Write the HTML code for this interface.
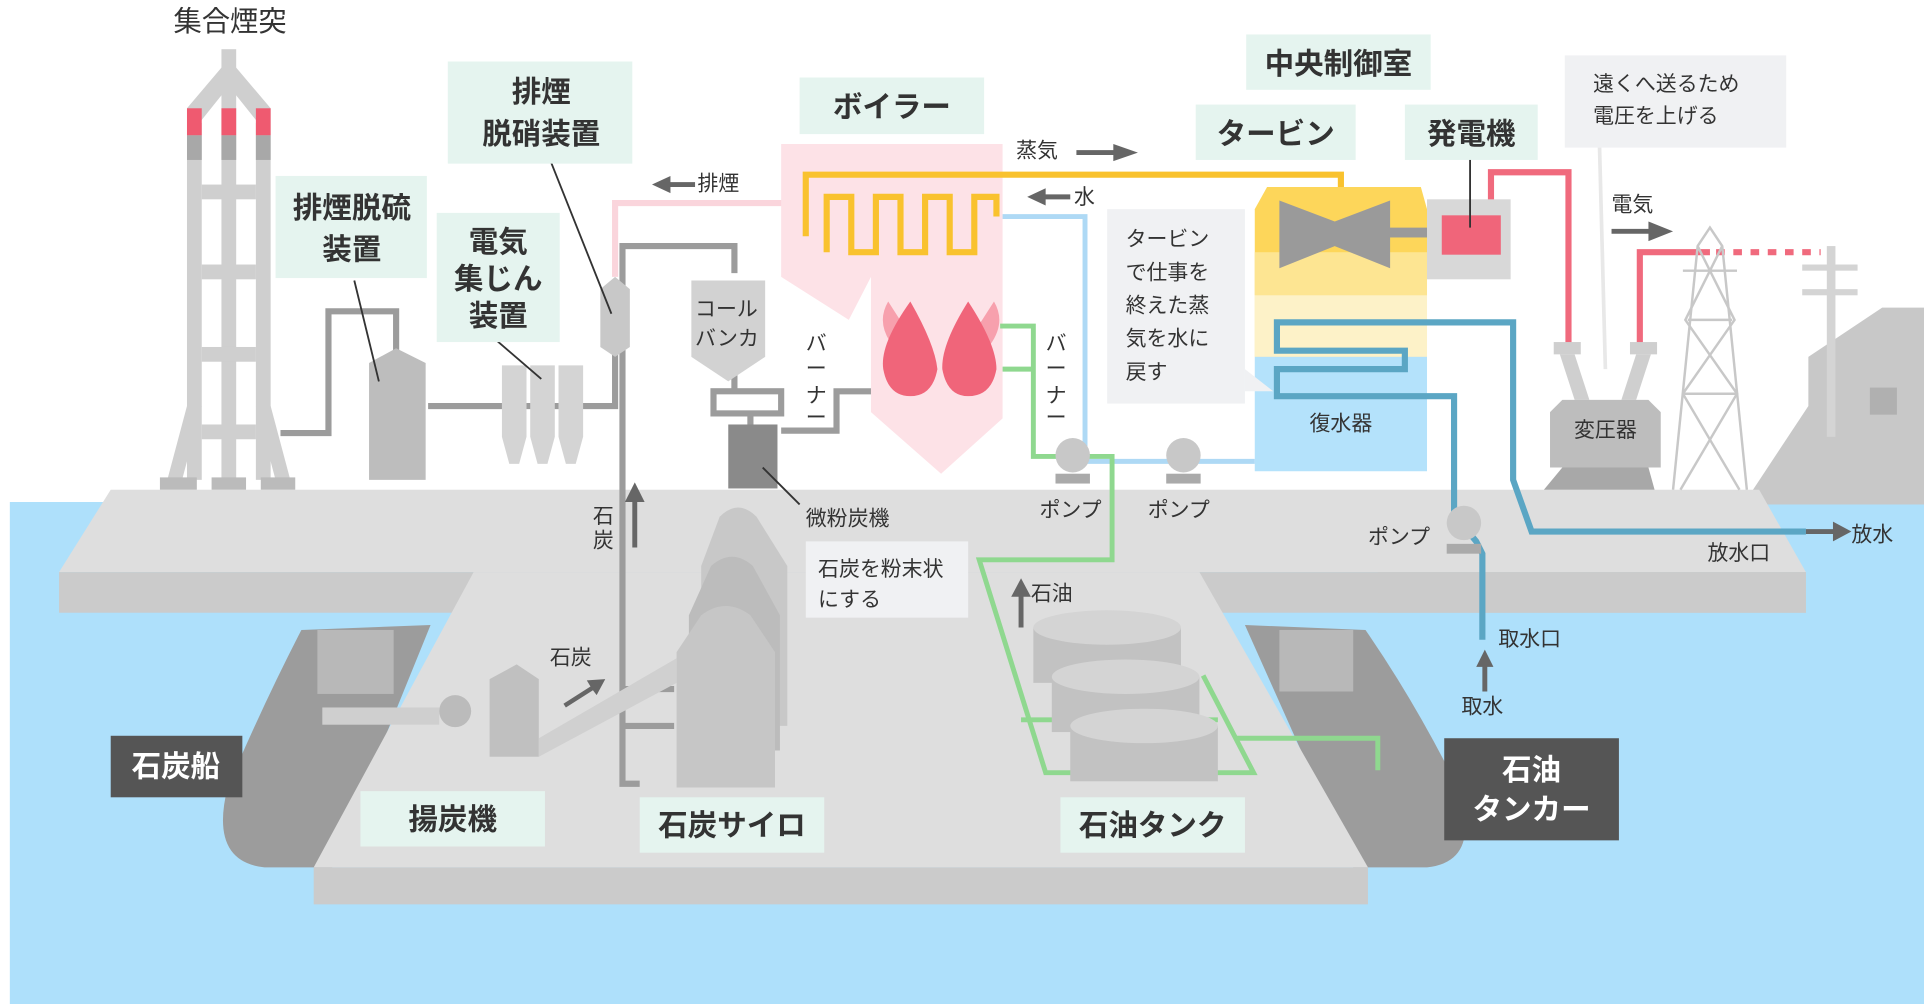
<!DOCTYPE html>
<html><head><meta charset="utf-8"><style>
html,body{margin:0;padding:0;background:#fff;}
svg{display:block;}
text{font-family:"Liberation Sans","Noto Sans CJK JP",sans-serif;fill:#333;}
.b{font-weight:bold;font-size:24px;}
.s{font-size:17px;}
</style></head><body>
<svg width="1924" height="1004" viewBox="0 0 1564 816" preserveAspectRatio="none" xmlns="http://www.w3.org/2000/svg">
<rect x="8" y="408" width="1556" height="408" fill="#aee0fb"/>
<polygon points="1425,398 1470,330 1470,290 1530,250 1564,250 1564,410 1425,410" fill="#c8c8c8"/>
<rect x="1520" y="315" width="22" height="22" fill="#b0b0b0"/>
<!-- ships -->
<path d="M350,508 L245,512 Q215,570 185,640 Q170,700 215,705 L270,705 Z" fill="#9c9c9c"/>
<rect x="258" y="512" width="62" height="52" fill="#b8b8b8"/>
<path d="M1012,508 L1110,512 Q1150,570 1185,640 Q1205,700 1160,705 L1100,705 Z" fill="#9c9c9c"/>
<rect x="1040" y="512" width="60" height="50" fill="#b8b8b8"/>
<!-- ground -->
<polygon points="90,398 1430,398 1468,465 48,465" fill="#dedede"/>
<rect x="48" y="465" width="1420" height="33" fill="#cbcbcb"/>
<polygon points="385,465 975,465 1112,705 255,705" fill="#dedede"/>
<rect x="255" y="705" width="857" height="30" fill="#cbcbcb"/>
<rect x="1120" y="465" width="348" height="33" fill="#cbcbcb"/>
<!-- chimney -->
<g fill="#cfcfcf">
<rect x="180" y="40" width="12" height="350"/>
<polygon points="180,55 192,55 220,88 220,100 210,100 186,70 162,100 152,100 152,88"/>
<rect x="152" y="100" width="12" height="290"/>
<rect x="208" y="100" width="12" height="290"/>
<polygon points="152,330 164,330 148,390 136,390"/>
<polygon points="208,330 220,330 236,390 224,390"/>
<rect x="164" y="150" width="44" height="12"/><rect x="164" y="215" width="44" height="12"/>
<rect x="164" y="282" width="44" height="12"/><rect x="164" y="345" width="44" height="12"/>
<rect x="130" y="388" width="30" height="10" fill="#bbb"/><rect x="172" y="388" width="28" height="10" fill="#bbb"/><rect x="212" y="388" width="28" height="10" fill="#bbb"/>
</g>
<g fill="#ef5a70"><rect x="152" y="88" width="12" height="22"/><rect x="180" y="88" width="12" height="22"/><rect x="208" y="88" width="12" height="22"/></g>
<g fill="#a8a8a8"><rect x="152" y="110" width="12" height="20"/><rect x="180" y="110" width="12" height="20"/><rect x="208" y="110" width="12" height="20"/></g>
<!-- grey pipes -->
<g fill="none" stroke="#9c9c9c" stroke-width="5">
<polyline points="228,352 267,352 267,253 322,253 322,290"/>
<polyline points="348,330 500,330 500,285"/>
<polyline points="520,637 506,637 506,200 597,200 597,222"/>
<polyline points="597,292 597,318"/>
<polyline points="610,336 610,346"/>
<polyline points="635,350 680,350 680,318 710,318"/>
<path d="M506,560 L548,560 M506,590 L548,590"/>
</g>
<rect x="580" y="318" width="55" height="18" fill="#fff" stroke="#9c9c9c" stroke-width="5"/>
<polygon points="300,295 322,283 346,295 346,390 300,390" fill="#bdbdbd"/>
<g fill="#d4d4d4"><polygon points="408,297 428,297 428,355 422,377 414,377 408,355"/><polygon points="431,297 451,297 451,355 445,377 437,377 431,355"/><polygon points="454,297 474,297 474,355 468,377 460,377 454,355"/></g>
<polygon points="488,235 500,225 512,235 512,282 500,290 488,282" fill="#c8c8c8"/>
<polyline points="500,225 500,165 640,165" fill="none" stroke="#fad5dc" stroke-width="5"/>
<polygon points="562,228 622,228 622,290 592,310 562,290" fill="#d2d2d2"/>
<rect x="592" y="345" width="40" height="52" fill="#8a8a8a"/>
<!-- boiler -->
<polygon points="635,117 815,117 815,240 815,340 765,385 708,335 708,225 690,260 635,225" fill="#fde2e7"/>
<path d="M722,245 Q712,262 725,280 L738,270 Z M808,245 Q818,262 805,280 L792,270 Z" fill="#f7a0ad"/>
<path d="M740,245 Q715,280 718,300 Q722,322 740,322 Q758,322 762,300 Q760,280 740,245 Z" fill="#f0657a"/>
<path d="M787,245 Q765,280 766,300 Q770,322 787,322 Q806,322 810,300 Q810,280 787,245 Z" fill="#f0657a"/>
<!-- steam -->
<polyline points="655,192 655,142 1090,142 1090,155" fill="none" stroke="#f9c22e" stroke-width="5"/>
<polyline points="672,205 672,160 692,160 692,205 712,205 712,160 732,160 732,205 752,205 752,160 772,160 772,205 792,205 792,160 810,160 810,176" fill="none" stroke="#f9c22e" stroke-width="5"/>
<polyline points="815,176 882,176 882,375 1020,375" fill="none" stroke="#aed9f5" stroke-width="4"/>
<!-- green oil -->
<path d="M813,265 L840,265 L840,371 L904,371 L904,455 L796,455 L850,628 L1019,628 L978,549 M815,300 L840,300 M830,585 L990,585 M1005,600 L1120,600 L1120,626" fill="none" stroke="#8fd88f" stroke-width="4"/>
<!-- turbine -->
<polygon points="1030,152 1155,152 1160,170 1160,240 1020,240 1020,170" fill="#fdd65a"/>
<rect x="1020" y="205" width="140" height="85" fill="#fde592"/>
<rect x="1020" y="240" width="140" height="50" fill="#fdf2c8"/>
<rect x="1020" y="290" width="140" height="93" fill="#b4e2fb"/>
<polygon points="1040,163 1085,180 1130,163 1130,218 1085,200 1040,218" fill="#9a9a9a"/>
<rect x="1125" y="185" width="50" height="8" fill="#9a9a9a"/>
<rect x="1160" y="162" width="68" height="65" fill="#d8d8d8"/>
<rect x="1172" y="175" width="48" height="32" fill="#f0657a"/>
<polyline points="1212,162 1212,140 1275,140 1275,280" fill="none" stroke="#f06a7d" stroke-width="5"/>
<polyline points="1333,280 1333,205 1390,205" fill="none" stroke="#f06a7d" stroke-width="5"/>
<line x1="1395" y1="205" x2="1480" y2="205" stroke="#f06a7d" stroke-width="5" stroke-dasharray="7,7"/>
<g fill="#cfcfcf"><rect x="1263" y="278" width="22" height="10"/><rect x="1325" y="278" width="22" height="10"/>
<polygon points="1268,288 1280,288 1292,325 1280,325"/><polygon points="1330,288 1342,288 1330,325 1318,325"/></g>
<polygon points="1260,335 1270,325 1340,325 1350,335 1350,380 1260,380" fill="#bdbdbd"/>
<polygon points="1270,380 1340,380 1345,398 1255,398" fill="#a8a8a8"/>
<g stroke="#c8c8c8" stroke-width="2" fill="none">
<polyline points="1360,398 1380,200 1390,185 1400,200 1420,398"/>
<path d="M1380,200 L1410,260 L1368,320 L1414,398 M1400,200 L1370,260 L1412,320 L1366,398 M1368,220 L1412,220 M1372,260 L1408,260 M1368,320 L1412,320"/>
</g>
<rect x="1485" y="200" width="7" height="155" fill="#d4d4d4"/>
<rect x="1465" y="215" width="45" height="5" fill="#d4d4d4"/><rect x="1465" y="235" width="45" height="5" fill="#d4d4d4"/>
<polyline points="1468,432 1245,432 1230,390 1230,262 1038,262 1038,285 1142,285 1142,300 1038,300 1038,322 1182,322 1182,418 1200,440 1205,450 1205,520" fill="none" stroke="#5ba6c4" stroke-width="5"/>
<g fill="#c8c8c8"><circle cx="872" cy="370" r="14"/><rect x="858" y="385" width="28" height="8" fill="#aaa"/>
<circle cx="962" cy="370" r="14"/><rect x="948" y="385" width="28" height="8" fill="#aaa"/>
<circle cx="1190" cy="425" r="14"/><rect x="1176" y="442" width="28" height="8" fill="#aaa"/></g>
<!-- silos -->
<path d="M585,420 Q600,405 615,420 L640,460 V590 H570 V460 Z" fill="#c8c8c8"/>
<path d="M578,460 Q595,445 612,460 L634,500 V610 H560 V500 Z" fill="#bcbcbc"/>
<path d="M570,500 Q590,485 610,500 L630,530 V640 H550 V530 Z" fill="#c6c6c6"/>
<g fill="#c2c2c2">
<rect x="840" y="510" width="120" height="45"/><ellipse cx="900" cy="510" rx="60" ry="14" fill="#d4d4d4"/>
<rect x="855" y="550" width="120" height="45"/><ellipse cx="915" cy="550" rx="60" ry="14" fill="#d4d4d4"/>
<rect x="870" y="590" width="120" height="45"/><ellipse cx="930" cy="590" rx="60" ry="14" fill="#d4d4d4"/>
</g>
<polygon points="398,552 420,540 438,552 438,615 398,615" fill="#c0c0c0"/>
<rect x="262" y="575" width="95" height="14" fill="#cfcfcf"/><circle cx="370" cy="578" r="13" fill="#bbb"/>
<polygon points="438,600 550,535 550,555 438,615" fill="#d0d0d0"/>
<g fill="#666">
<polygon points="565,148 545,148 545,143 530,150 545,157 545,152 565,152"/>
<polygon points="870,158 850,158 850,153 835,160 850,167 850,162 870,162"/>
<polygon points="875,122 905,122 905,117 925,124 905,131 905,126 875,126"/>
<polygon points="1310,186 1340,186 1340,180 1360,188 1340,196 1340,190 1310,190"/>
<polygon points="1468,430 1490,430 1490,424 1505,432 1490,440 1490,434 1468,434"/>
<polygon points="514,445 514,408 508,408 516,392 524,408 518,408 518,445"/>
<polygon points="1205,562 1205,542 1200,542 1207,528 1214,542 1209,542 1209,562"/>
<polygon points="828,510 828,485 822,485 830,470 838,485 832,485 832,510"/>
<polygon points="458,572 480,558 477,553 492,552 485,565 482,561 460,575"/>
</g>
<g stroke="#333" stroke-width="1.5">
<line x1="448" y1="132" x2="497" y2="255"/><line x1="288" y1="228" x2="308" y2="310"/>
<line x1="404" y1="277" x2="440" y2="308"/><line x1="1195" y1="128" x2="1195" y2="185"/>
<line x1="620" y1="380" x2="650" y2="410"/>
</g>
<line x1="1300" y1="110" x2="1305" y2="300" stroke="#e8e8e8" stroke-width="3"/>
<g fill="#e5f4ef">
<rect x="364" y="50" width="150" height="83"/><rect x="224" y="143" width="123" height="83"/>
<rect x="355" y="173" width="100" height="105"/><rect x="650" y="63" width="150" height="46"/>
<rect x="1013" y="28" width="150" height="45"/><rect x="972" y="85" width="130" height="45"/>
<rect x="1142" y="85" width="108" height="45"/><rect x="293" y="643" width="150" height="45"/>
<rect x="520" y="648" width="150" height="45"/><rect x="862" y="648" width="150" height="45"/>
</g>
<g fill="#f0f1f3">
<rect x="1272" y="45" width="180" height="75"/><rect x="900" y="170" width="112" height="158"/>
<polygon points="1012,300 1035,318 1012,318"/><rect x="655" y="440" width="132" height="62"/>
</g>
<rect x="90" y="598" width="107" height="50" fill="#555"/>
<rect x="1174" y="600" width="142" height="83" fill="#555"/>
<text x="187" y="25" text-anchor="middle" style="font-size:23px">集合煙突</text>
<text class="b" x="440" y="83" text-anchor="middle">排煙</text><text class="b" x="440" y="117" text-anchor="middle">脱硝装置</text>
<text class="b" x="286" y="177" text-anchor="middle">排煙脱硫</text><text class="b" x="286" y="211" text-anchor="middle">装置</text>
<text class="b" x="405" y="205" text-anchor="middle">電気</text><text class="b" x="405" y="235" text-anchor="middle">集じん</text><text class="b" x="405" y="265" text-anchor="middle">装置</text>
<text class="b" x="725" y="95" text-anchor="middle">ボイラー</text>
<text class="b" x="1088" y="60" text-anchor="middle">中央制御室</text>
<text class="b" x="1037" y="117" text-anchor="middle">タービン</text>
<text class="b" x="1196" y="117" text-anchor="middle">発電機</text>
<text class="b" x="368" y="674" text-anchor="middle">揚炭機</text>
<text class="b" x="595" y="679" text-anchor="middle">石炭サイロ</text>
<text class="b" x="937" y="679" text-anchor="middle">石油タンク</text>
<text class="b" x="143" y="631" text-anchor="middle" style="fill:#fff">石炭船</text>
<text class="b" x="1245" y="634" text-anchor="middle" style="fill:#fff">石油</text><text class="b" x="1245" y="666" text-anchor="middle" style="fill:#fff">タンカー</text>
<text class="s" x="567" y="155">排煙</text>
<text class="s" x="826" y="128">蒸気</text>
<text class="s" x="873" y="166">水</text>
<text class="s" x="1295" y="74">遠くへ送るため</text><text class="s" x="1295" y="100">電圧を上げる</text>
<text class="s" x="1310" y="172">電気</text>
<text class="s" x="915" y="200">タービン</text><text class="s" x="915" y="227">で仕事を</text><text class="s" x="915" y="254">終えた蒸</text><text class="s" x="915" y="281">気を水に</text><text class="s" x="915" y="308">戻す</text>
<text class="s" x="1090" y="350" text-anchor="middle">復水器</text>
<text class="s" x="1305" y="355" text-anchor="middle">変圧器</text>
<text class="s" x="565" y="257">コール</text><text class="s" x="565" y="281">バンカ</text>
<text class="s" x="655" y="285">バ</text><text class="s" x="655" y="305">ー</text><text class="s" x="655" y="327">ナ</text><text class="s" x="655" y="345">ー</text>
<text class="s" x="850" y="285">バ</text><text class="s" x="850" y="305">ー</text><text class="s" x="850" y="327">ナ</text><text class="s" x="850" y="345">ー</text>
<text class="s" x="482" y="425">石</text><text class="s" x="482" y="445">炭</text>
<text class="s" x="655" y="427">微粉炭機</text>
<text class="s" x="665" y="468">石炭を粉末状</text><text class="s" x="665" y="493">にする</text>
<text class="s" x="845" y="420">ポンプ</text><text class="s" x="933" y="420">ポンプ</text>
<text class="s" x="1112" y="442">ポンプ</text>
<text class="s" x="1388" y="455">放水口</text>
<text class="s" x="1505" y="440">放水</text>
<text class="s" x="1218" y="525">取水口</text>
<text class="s" x="1188" y="580">取水</text>
<text class="s" x="838" y="488">石油</text>
<text class="s" x="447" y="540">石炭</text>
</svg>
</body></html>
